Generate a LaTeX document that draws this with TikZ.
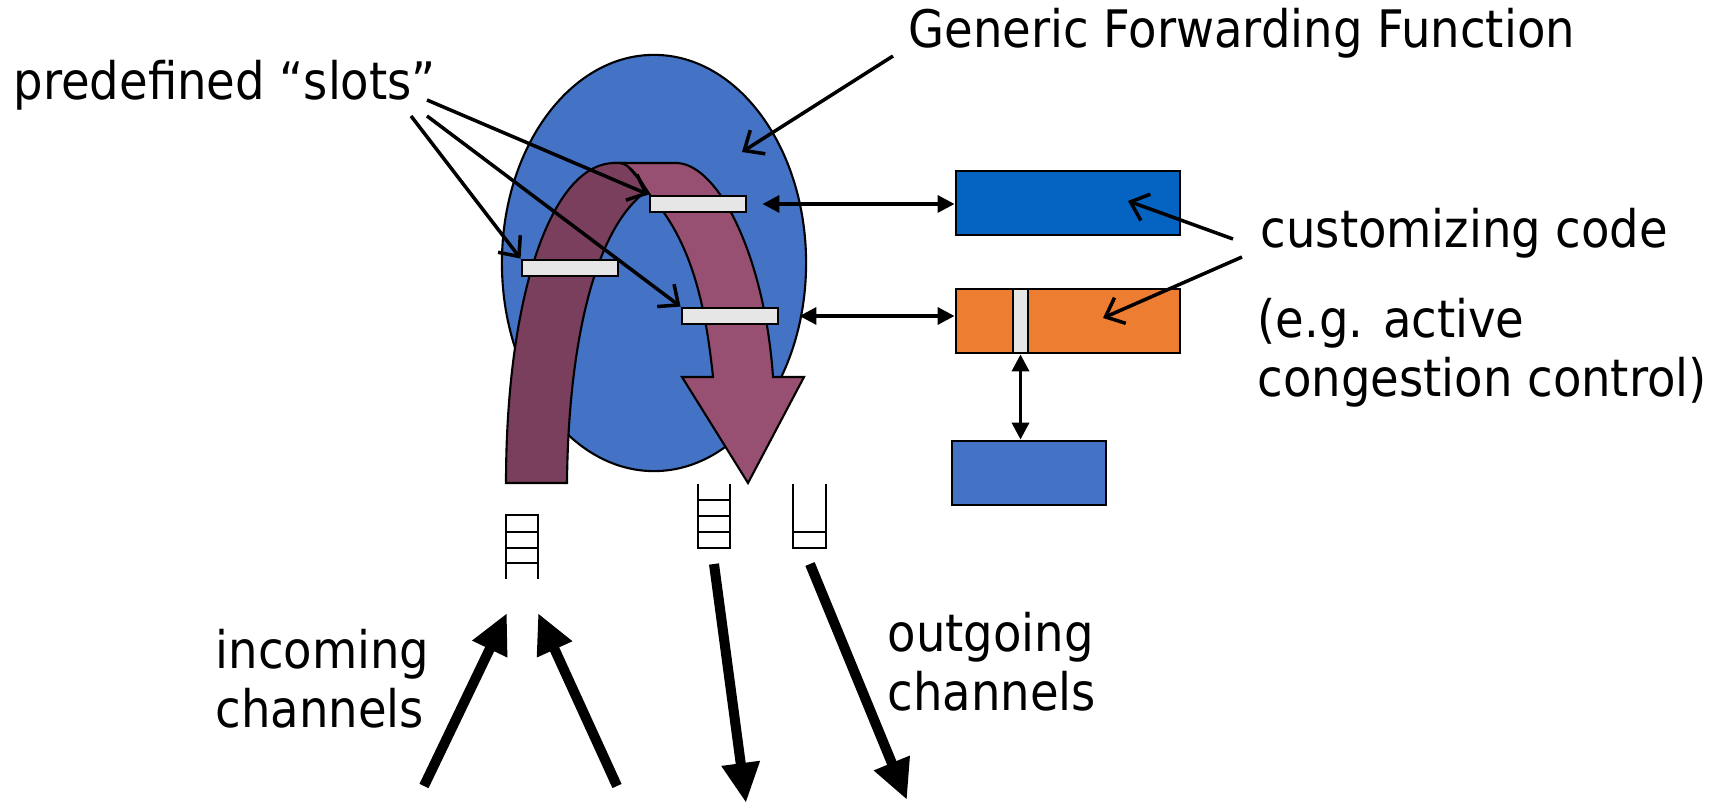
\documentclass[tikz,border=0pt]{standalone}
\usepackage{fontspec}
\setmainfont{DejaVu Sans Condensed}
\usetikzlibrary{arrows.meta,shapes,positioning}

\definecolor{gffblue}{HTML}{4472C4}
\definecolor{codeblue}{HTML}{0563C1}
\definecolor{codeorange}{HTML}{ED7D31}
\definecolor{backpurple}{HTML}{7A3F5D}
\definecolor{frontpurple}{HTML}{974F72}
\definecolor{slotgray}{HTML}{E6E6E6}

\begin{document}
\begin{tikzpicture}[x=0.01cm, y=-0.01cm, >=Stealth,
  every node/.style={font=\fontsize{14.7pt}{17pt}\selectfont},
  lbl/.style={inner sep=0pt, anchor=base west},
  slot/.style={draw, fill=slotgray, line width=0.8pt, minimum width=0.96cm, minimum height=0.16cm, inner sep=0pt},
  codebox/.style={draw, line width=0.8pt, minimum width=2.24cm, minimum height=0.64cm, inner sep=0pt},
  pointer/.style={line width=1pt, -{Straight Barb[length=1.6mm, width=2.8mm]}},
  link/.style={line width=1pt, {Triangle[length=1.7mm, width=1.7mm]}-{Triangle[length=1.7mm, width=1.7mm]}},
  channel/.style={line width=2.85pt, -{Triangle[length=4mm, width=3.6mm]}},
  queue/.style={line width=0.6pt}]
  \useasboundingbox (0,0) rectangle (1722,804);

  % Forwarding function
  \node[ellipse, draw, fill=gffblue, line width=0.6pt, minimum width=3.04cm, minimum height=4.16cm, inner sep=0pt] (gff) at (654,263) {};

  % Packet path: back of the ribbon
  \draw[fill=backpurple, line width=0.6pt] (506,483) .. controls (506,300) and (550,163) .. (615,163)
    -- (625,163) -- (648,190) .. controls (590,230) and (568,360) .. (567,483) -- cycle;
  % Packet path: front of the ribbon with the arrow head
  \draw[fill=frontpurple, line width=0.6pt] (620,163) -- (677,163) .. controls (720,165) and (765,260) .. (773,377)
    -- (804,377) -- (748,483) -- (682,377) -- (713,377) .. controls (705,300) and (690,240) .. (650,195)
    .. controls (640,180) and (632,165) .. (620,163) -- cycle;

  % Slots
  \node[slot] (slotA) at (698,204) {};
  \node[slot] (slotB) at (570,268) {};
  \node[slot] (slotC) at (730,316) {};

  % Customizing code
  \node[codebox, fill=codeblue] (codeA) at (1068,203) {};
  \node[codebox, fill=codeorange] (codeB) at (1068,321) {};
  \node[slot, minimum width=0.15cm, minimum height=0.64cm] (hook) at (1020.5,321) {};
  \node[codebox, fill=gffblue, minimum width=1.54cm] (codeC) at (1029,473) {};

  \draw[link] ([xshift=0.15cm]slotA.east) -- (slotA.east -| codeA.west);
  \draw[link] ([xshift=0.2cm]slotC.east) -- (slotC.east -| codeB.west);
  \draw[link] (hook.south) -- (hook.south |- codeC.north);

  % Queues
  \draw[queue] (506,579) -- (506,515) -- (538,515) -- (538,579);
  \foreach \y in {532,548,563} \draw[queue] (506,\y) -- (538,\y);
  \draw[queue] (698,484) -- (698,548) -- (730,548) -- (730,484);
  \foreach \y in {500,516,532} \draw[queue] (698,\y) -- (730,\y);
  \draw[queue] (793,484) -- (793,548) -- (826,548) -- (826,484);
  \draw[queue] (793,532) -- (826,532);

  % Channels
  \coordinate (in1tail) at (424,786);  \coordinate (in1tip) at (507,613);
  \coordinate (in2tail) at (617,786);  \coordinate (in2tip) at (538,613);
  \coordinate (out1tail) at (714,564); \coordinate (out1tip) at (746,803);
  \coordinate (out2tail) at (810,564); \coordinate (out2tip) at (907,800);
  \draw[channel] (in1tail) -- (in1tip);
  \draw[channel] (in2tail) -- (in2tip);
  \draw[channel] (out1tail) -- (out1tip);
  \draw[channel] (out2tail) -- (out2tip);

  % Labels
  \node[lbl] (gfflbl) at (908,48) {Generic Forwarding Function};
  \node[lbl] (slotlbl) at (13,100) {predefined “slots”};
  \node[lbl] (codelbl) at (1260,248) {customizing code};
  \node[lbl, align=left] (eglbl) at (1257,397) {(e.g. active\\congestion control)};
  \node[lbl, align=left] (inlbl) at (215,728) {incoming\\channels};
  \node[lbl, align=left] (outlbl) at (887,711) {outgoing\\channels};

  % Pointers
  \coordinate (gffstart) at (893,56);  \coordinate (gfftip) at (742,152);
  \coordinate (sA) at (427,100); \coordinate (sB) at (411,116); \coordinate (sC) at (427,116);
  \coordinate (cA) at (1233,239); \coordinate (cAtip) at (1128,201);
  \coordinate (cB) at (1242,257); \coordinate (cBtip) at (1103,318);
  \draw[pointer] (gffstart) -- (gfftip);
  \draw[pointer] (sA) -- (slotA.north west);
  \draw[pointer] (sB) -- (slotB.north west);
  \draw[pointer] (sC) -- (slotC.north west);
  \draw[pointer] (cA) -- (cAtip);
  \draw[pointer] (cB) -- (cBtip);
\end{tikzpicture}
\end{document}
